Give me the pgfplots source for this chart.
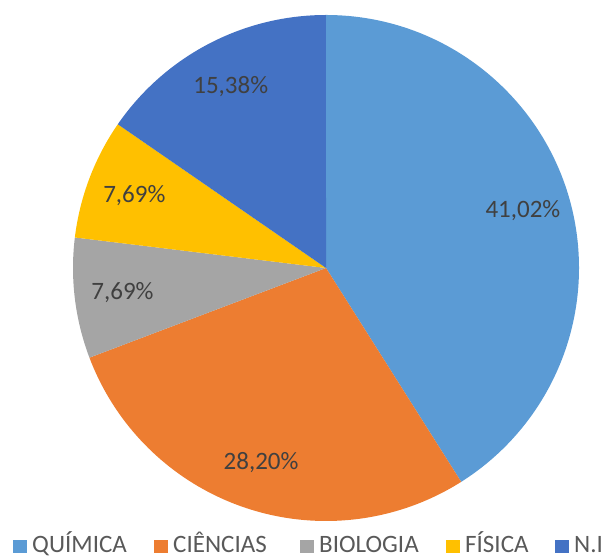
\documentclass[border=0pt]{standalone}
\usepackage{fontspec}
\setmainfont{Carlito}
\usepackage{pgfplots}
\pgfplotsset{compat=1.18}

\definecolor{quimica}{HTML}{5B9BD5}
\definecolor{ciencias}{HTML}{ED7D31}
\definecolor{biologia}{HTML}{A5A5A5}
\definecolor{fisica}{HTML}{FFC000}
\definecolor{ni}{HTML}{4472C4}
\definecolor{lbl}{HTML}{404040}
\definecolor{legtxt}{HTML}{595959}

% sum of the shares (Excel normalises to it)
\def\tot{99.98}
\newcommand\txt{\fontsize{25}{30}\selectfont}

% #1 colour, #2 share before this slice, #3 share, #4 label
\newcommand\slice[4]{%
  \pgfmathsetmacro\sa{90-#2/\tot*360}%
  \pgfmathsetmacro\da{-#3/\tot*360}%
  \pgfmathsetmacro\ma{90-(#2+#3/2)/\tot*360}%
  \pgfmathsetmacro\lx{326+205*cos(\ma)}%
  \pgfmathsetmacro\ly{291+205*sin(\ma)}%
  \pgfmathsetmacro\sx{326+253*cos(\sa)}%
  \pgfmathsetmacro\sy{291+253*sin(\sa)}%
  \edef\doslice{%
    \noexpand\fill[#1] (axis cs:326,291) -- (axis cs:\sx,\sy)
      arc[start angle=\sa, delta angle=\da, radius=253pt] -- cycle;
    \noexpand\node[text=lbl, font=\noexpand\txt] at (axis cs:\lx,\ly) {#4};
  }\doslice
}
% #1 colour, #2 x of square, #3 x+14, #4 x of text, #5 name
\newcommand\legitem[5]{%
  \fill[#1] (axis cs:#2,6) rectangle (axis cs:#3,19);
  \node[anchor=base west, inner sep=0pt, text=legtxt, font=\txt] at (axis cs:#4,6) {#5};
}

\begin{document}
\begin{tikzpicture}
\begin{axis}[
    x=1pt, y=1pt, scale only axis,
    xmin=0, xmax=607, ymin=0, ymax=559,
    hide axis, clip=false
]
    \slice{quimica}{0}{41.02}{41,02\%}
    \slice{ciencias}{41.02}{28.20}{28,20\%}
    \slice{biologia}{69.22}{7.69}{7,69\%}
    \slice{fisica}{76.91}{7.69}{7,69\%}
    \slice{ni}{84.60}{15.38}{15,38\%}

    \legitem{quimica}{13}{27}{32}{QUÍMICA}
    \legitem{ciencias}{154}{168}{173}{CIÊNCIAS}
    \legitem{biologia}{300}{314}{319}{BIOLOGIA}
    \legitem{fisica}{446}{460}{465}{FÍSICA}
    \legitem{ni}{555}{569}{574}{N.I}
\end{axis}
\pgfresetboundingbox
\path (current axis.south west) rectangle (current axis.north east);
\end{tikzpicture}
\end{document}
